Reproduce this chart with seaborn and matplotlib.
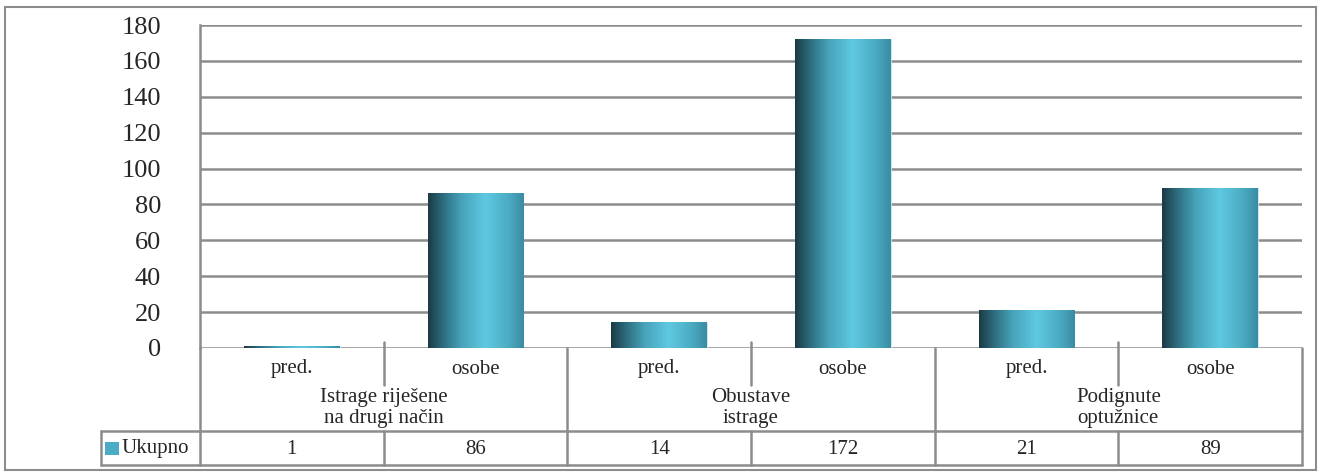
import numpy as np
import pandas as pd
import matplotlib
matplotlib.use("Agg")
import matplotlib.pyplot as plt
import matplotlib.transforms as mtransforms
from matplotlib.colors import LinearSegmentedColormap
from matplotlib.patches import Rectangle
import seaborn as sns

# data
groups = ["Istrage riješene\nna drugi način", "Obustave\nistrage", "Podignute\noptužnice"]
subs = ["pred.", "osobe"]
values = [1, 86, 14, 172, 21, 89]
series_name = "Ukupno"

sns.set_style("white")
plt.rcParams['font.family'] = ['Liberation Serif', 'DejaVu Serif']

labels = [f"{g}|{s}" for g in groups for s in subs]
df = pd.DataFrame({"cat": labels, "val": values})

W, H = 1321, 472
fig = plt.figure(figsize=(W / 100, H / 100), dpi=100)
ax = fig.add_axes([200 / W, 124 / H, 1102 / W, 323 / H])

sns.barplot(data=df, x="cat", y="val", color="#4bacc6", width=0.52, ax=ax)

# gradient fill for bars
cmap = LinearSegmentedColormap.from_list(
    "cyl", [(0.0, "#1b3a45"), (0.15, "#2c6b7c"), (0.35, "#47a3ba"),
            (0.6, "#5fc9e2"), (0.85, "#4aaac1"), (1.0, "#3a8ca2")])
grad = np.linspace(0, 1, 256).reshape(1, -1)
for p in ax.patches:
    x0, y0 = p.get_x(), p.get_y()
    w, h = p.get_width(), p.get_height()
    p.set_facecolor("none")
    p.set_edgecolor("#bfe6ef")
    p.set_linewidth(0.6)
    ax.imshow(grad, extent=[x0, x0 + w, y0, y0 + h], aspect="auto",
              cmap=cmap, zorder=2, interpolation="bicubic")

n = len(values)
ax.set_xlim(-0.5, n - 0.5)
ax.set_ylim(0, 180)
ax.set_yticks(range(0, 181, 20))
ax.tick_params(axis="y", labelsize=19, length=0, pad=28)
ax.set_xticks([])
ax.set_xlabel("")
ax.set_ylabel("")
ax.yaxis.grid(True, color="#8c8c8c", lw=1.8)
ax.set_axisbelow(True)
for s in ["top", "right", "bottom"]:
    ax.spines[s].set_visible(False)
ax.spines["left"].set_color("#8c8c8c")
ax.spines["left"].set_linewidth(1.8)

# data table below the axis
tr = mtransforms.blended_transform_factory(ax.transData, ax.transAxes)
lc = "#8c8c8c"
lw = 1.8
y_row1 = -37 / 323
y_row2 = -83 / 323
y_bot = -117 / 323
x_left = -0.5 - 99 / (1102 / n)

def vline(x, y0, y1):
    ax.plot([x, x], [y0, y1], color=lc, lw=lw, transform=tr, clip_on=False)

def hline(x0, x1, y):
    ax.plot([x0, x1], [y, y], color=lc, lw=lw, transform=tr, clip_on=False)

for i in range(n + 1):
    b = i - 0.5
    if i % 2 == 0:
        vline(b, 0, y_bot)
    else:
        vline(b, 0.02, y_row1)
        vline(b, y_row2, y_bot)
vline(x_left, y_row2, y_bot)
hline(x_left, n - 0.5, y_row2)
hline(x_left, n - 0.5, y_bot)

fs = 15
for i, lab in enumerate(labels):
    sub = lab.split("|")[1]
    ax.text(i, -21 / 323, sub, transform=tr, ha="center", va="center",
            fontsize=fs)
    ax.text(i, -101 / 323, str(values[i]), transform=tr, ha="center",
            va="center", fontsize=fs)
for j, g in enumerate(groups):
    ax.text(2 * j + 0.5, -60 / 323, g, transform=tr, ha="center",
            va="center", fontsize=fs, linespacing=1.1)

# legend key inside table
key_w = 14 / (1102 / n)
ax.add_patch(Rectangle((x_left + 4 / (1102 / n), -107 / 323), key_w, 13 / 323,
                       transform=tr, facecolor="#4bacc6", edgecolor="none",
                       clip_on=False))
ax.text(x_left + 21 / (1102 / n), -101 / 323, series_name, transform=tr,
        ha="left", va="center", fontsize=fs)

# outer chart border
fig.patches.append(Rectangle((5 / W, 2 / H), 1311 / W, 463 / H,
                             transform=fig.transFigure, fill=False,
                             edgecolor="#8c8c8c", lw=1.5))

fig.savefig("out.png", dpi=100)
